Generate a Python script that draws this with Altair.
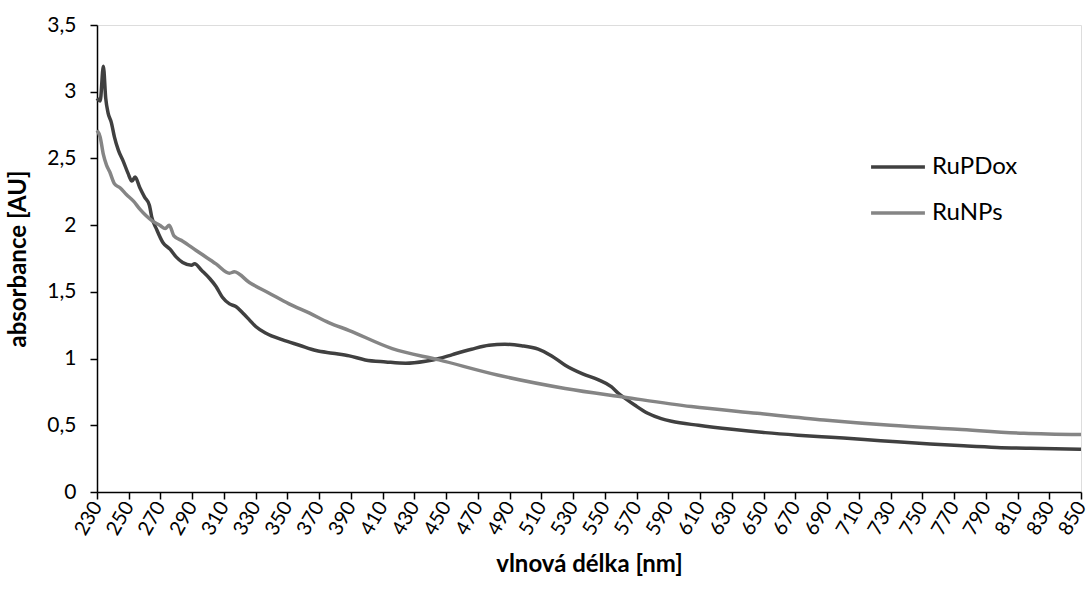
import altair as alt
import pandas as pd

# RuPDox
rupdox_nm = [230, 232, 234, 235.5, 237, 239, 241, 243.5, 246.5, 249.5, 252, 254, 257, 260, 263,
             264.5, 267.5, 271.5, 276, 280, 284, 289.5, 291.5, 296, 301, 305, 309, 313.5, 317.5,
             322, 326, 330, 336.5, 347, 357.5, 368, 378.5, 389, 399, 412, 424.5, 437, 445.5, 454,
             466, 477, 487, 497.5, 508, 516.5, 525, 536, 546, 554, 558.5, 563, 569, 577, 585.5,
             592, 609, 630, 651, 671.5, 692.5, 713.5, 734, 755, 776, 797, 818, 850]
rupdox_abs = [2.95, 2.93, 3.19, 2.95, 2.84, 2.77, 2.66, 2.56, 2.48, 2.39, 2.33, 2.36, 2.28, 2.21, 2.15,
              2.06, 1.97, 1.87, 1.82, 1.76, 1.72, 1.70, 1.71, 1.66, 1.60, 1.54, 1.46, 1.41, 1.39,
              1.34, 1.29, 1.24, 1.19, 1.14, 1.10, 1.06, 1.04, 1.02, 0.99, 0.975, 0.965, 0.98, 1.0, 1.03,
              1.07, 1.10, 1.107, 1.096, 1.07, 1.02, 0.95, 0.885, 0.84, 0.79, 0.74, 0.70, 0.65, 0.59, 0.55,
              0.53, 0.50, 0.47, 0.445, 0.426, 0.41, 0.394, 0.376, 0.36, 0.346, 0.334, 0.327, 0.32]

# RuNPs
runps_nm = [230, 232, 234, 236, 238, 241, 244.5, 248.5, 253, 257, 261, 265, 269.5, 273, 275.5, 278.5,
            284, 292.5, 305, 313.5, 316.5, 326, 338.5, 351, 364, 376, 389, 416, 445.5, 483, 525,
            562.5, 604.5, 646, 688, 730, 772, 814, 850]
runps_abs = [2.71, 2.66, 2.53, 2.45, 2.40, 2.31, 2.28, 2.23, 2.18, 2.12, 2.07, 2.03, 2.0, 1.975, 2.0, 1.92,
             1.88, 1.81, 1.71, 1.64, 1.65, 1.57, 1.49, 1.41, 1.34, 1.27, 1.21, 1.075, 0.99, 0.875, 0.776,
             0.71, 0.64, 0.59, 0.54, 0.50, 0.47, 0.44, 0.43]

series_names = ["RuPDox", "RuNPs"]
series_colors = ["#404040", "#858585"]
x_ticks = list(range(230, 851, 20))
y_ticks = [0, 0.5, 1, 1.5, 2, 2.5, 3, 3.5]

df = pd.concat([
    pd.DataFrame({"nm": rupdox_nm, "abs": rupdox_abs, "series": "RuPDox", "order": range(len(rupdox_nm))}),
    pd.DataFrame({"nm": runps_nm, "abs": runps_abs, "series": "RuNPs", "order": range(len(runps_nm))}),
])

FONT = "Lato"

chart = alt.Chart(df).mark_line(strokeWidth=3.5, interpolate="monotone").encode(
    x=alt.X("nm:Q",
            scale=alt.Scale(domain=[230, 850], nice=False, zero=False),
            axis=alt.Axis(values=x_ticks, title="vlnová délka [nm]", labelAngle=-60,
                          labelAlign="right", labelBaseline="middle", labelPadding=4,
                          grid=False, tickSize=7, tickColor="black", domainColor="black",
                          domainWidth=1.5, tickWidth=1.5, labelFontSize=20, labelFont=FONT,
                          labelColor="black", titleFont=FONT, titleFontSize=24, titleColor="black",
                          titleFontWeight="bold", titlePadding=14, labelFlush=False,
                          labelOverlap=False)),
    y=alt.Y("abs:Q",
            scale=alt.Scale(domain=[0, 3.5], nice=False),
            axis=alt.Axis(values=y_ticks, title="absorbance [AU]", grid=False, tickSize=7,
                          tickColor="black", domainColor="black", domainWidth=1.5, tickWidth=1.5,
                          labelFontSize=21, labelFont=FONT, labelColor="black", labelPadding=14,
                          format=",.1~f", labelExpr="replace(datum.label, '.', ',')",
                          titleFont=FONT, titleFontSize=24, titleColor="black",
                          titleFontWeight="bold", titlePadding=16, labelFlush=False)),
    color=alt.Color("series:N",
                    scale=alt.Scale(domain=series_names, range=series_colors),
                    legend=alt.Legend(title=None, orient="none", legendX=772, legendY=113,
                                      symbolType="stroke", symbolSize=2900, symbolStrokeWidth=3.5,
                                      labelFontSize=24, labelFont=FONT, labelColor="black",
                                      labelOffset=5, rowPadding=5)),
    order="order:Q",
).properties(
    width=984, height=467,
    padding={"left": 97, "top": 25, "right": 9, "bottom": 98},
    autosize=alt.AutoSizeParams(type="none"),
).configure_view(stroke=None).configure(background="white")

chart.save("out.html", embed_options={"renderer": "svg", "actions": False})
